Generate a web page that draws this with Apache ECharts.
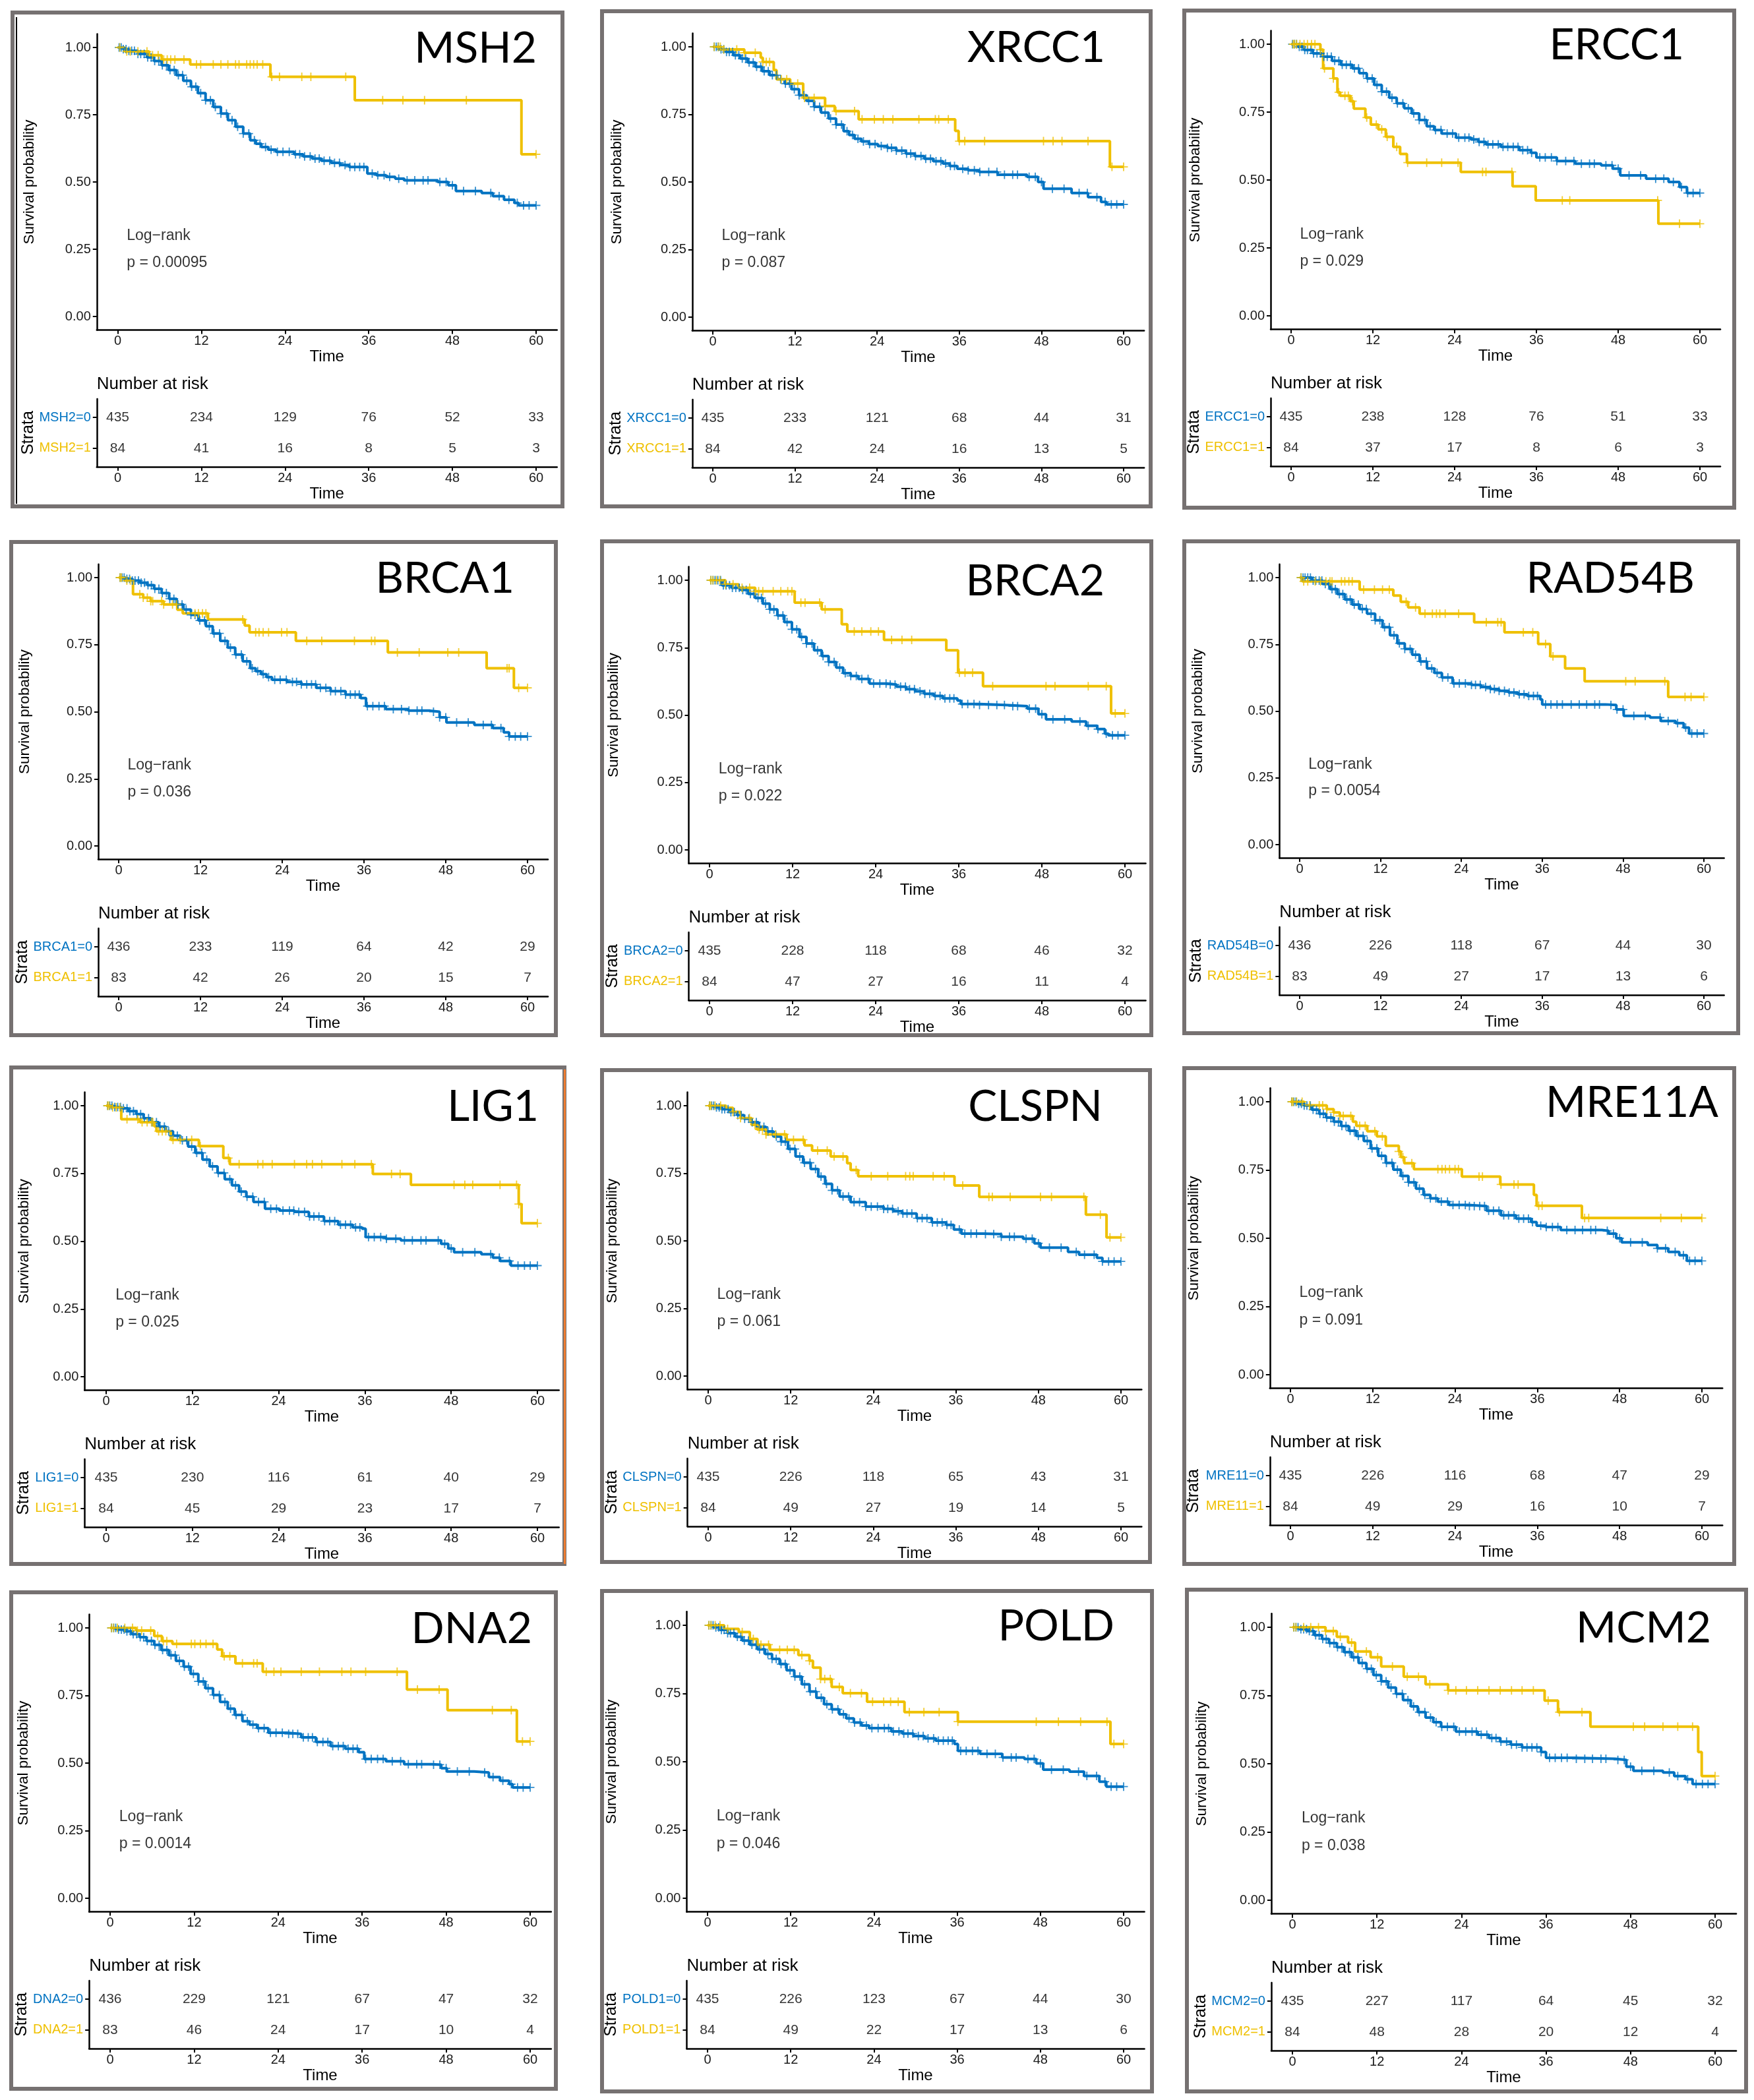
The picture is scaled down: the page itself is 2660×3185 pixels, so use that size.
<!DOCTYPE html>
<html><head><meta charset="utf-8">
<script src="https://cdn.jsdelivr.net/npm/echarts@6/dist/echarts.min.js"></script>
<style>html,body{margin:0;padding:0;background:#fff}#c{width:2660px;height:3185px}</style>
</head><body><div id="c"></div><script>
// ---------- shared tick values ----------
const timeTicks = [0, 12, 24, 36, 48, 60];
const survTicks = [0, 0.25, 0.5, 0.75, 1];
// censor times of the large (=0) group (same cohort in every panel)
const blueCensorTimes = [0.2,0.5,0.8,1.2,1.6,2.0,2.4,2.9,3.3,3.8,4.3,4.8,5.3,5.9,6.4,7.0,7.5,8.1,8.7,9.3,9.9,10.6,11.2,11.9,12.6,13.3,14.0,14.8,15.6,16.4,17.2,18.0,18.8,19.6,20.4,21.2,22.0,22.9,23.7,24.6,25.5,26.1,26.8,27.6,28.3,28.9,29.6,30.4,31.1,31.8,32.6,33.3,34.0,34.7,35.3,36.5,37.3,38.2,39.0,40.3,41.5,42.6,43.8,44.5,46.2,47.1,48.0,49.6,51.3,53.5,54.7,56.1,57.3,58.2,59.0,60];

// ---------- MSH2 ----------
const MSH2_blue = [[0,1],[0.8,0.994],[1.6,0.988],[2.9,0.976],[4.2,0.963],[5.2,0.950],[6.3,0.934],[7.3,0.916],[8.4,0.897],[9.4,0.876],[10.5,0.854],[11.5,0.830],[12.6,0.804],[13.7,0.779],[14.8,0.754],[15.8,0.730],[16.9,0.705],[18.0,0.680],[19.0,0.655],[19.8,0.642],[20.6,0.630],[21.6,0.620],[22.7,0.612],[25.3,0.603],[26.6,0.595],[27.9,0.587],[29.2,0.579],[30.6,0.571],[31.9,0.563],[33.2,0.556],[35.8,0.531],[37.1,0.525],[38.5,0.519],[39.8,0.512],[41.1,0.506],[45.9,0.500],[47.4,0.488],[48.5,0.466],[52.2,0.459],[53.8,0.447],[55.4,0.434],[56.9,0.422],[57.5,0.413],[60,0.413]];
const MSH2_yellow = [[0,1],[1.0,0.985],[4.5,0.971],[6.3,0.955],[10.4,0.937],[21.9,0.891],[34.0,0.804],[57.9,0.603],[60,0.603]];
const MSH2_yellowCensor = [0.3,1.3,1.8,2.9,4.2,5.0,5.8,6.6,7.1,7.6,8.2,9.5,11.3,11.9,13.7,14.8,15.8,16.9,17.4,18.5,19.0,19.5,20.0,20.8,22.1,23.2,26.4,27.7,32.7,38.0,40.9,44.0,50.0,60];
const MSH2_risk0 = [435,234,129,76,52,33];
const MSH2_risk1 = [84,41,16,8,5,3];

// ---------- XRCC1 ----------
const XRCC1_blue = [[0,1],[0.9,0.991],[1.9,0.981],[3.0,0.969],[4.0,0.957],[5.1,0.942],[6.2,0.926],[7.2,0.910],[8.3,0.895],[9.4,0.880],[10.5,0.864],[11.5,0.843],[12.6,0.821],[13.7,0.800],[14.8,0.778],[15.8,0.757],[16.9,0.735],[18.0,0.712],[19.1,0.688],[19.9,0.674],[20.7,0.660],[21.7,0.650],[22.8,0.640],[24.1,0.633],[25.5,0.626],[26.8,0.616],[28.2,0.605],[29.5,0.596],[30.9,0.586],[32.2,0.577],[33.6,0.568],[34.6,0.559],[35.7,0.549],[37.3,0.543],[38.9,0.537],[41.6,0.527],[45.9,0.519],[47.5,0.500],[48.3,0.475],[52.4,0.459],[54.8,0.444],[56.7,0.426],[57.5,0.417],[60,0.417]];
const XRCC1_yellow = [[0,1],[1.2,0.990],[4.6,0.978],[7.0,0.960],[7.3,0.944],[8.9,0.914],[9.3,0.880],[11.3,0.864],[13.2,0.811],[16.4,0.781],[17.8,0.762],[21.3,0.732],[35.4,0.689],[35.9,0.651],[58.0,0.556],[60,0.556]];
const XRCC1_yellowCensor = [0.2,0.8,1.1,1.6,3.5,4.6,6.2,7.3,7.8,8.3,10.0,10.8,12.4,13.4,14.8,16.4,18.0,20.7,21.8,23.6,24.9,26.3,30.1,32.5,33.0,34.4,36.0,36.8,39.7,48.3,49.7,51.0,54.8,58.3,60];
const XRCC1_risk0 = [435,233,121,68,44,31];
const XRCC1_risk1 = [84,42,24,16,13,5];

// ---------- ERCC1 ----------
const ERCC1_blue = [[0,1],[1.0,0.990],[1.9,0.979],[3.2,0.966],[4.6,0.954],[6.0,0.939],[7.3,0.924],[9.0,0.911],[10.0,0.893],[11.1,0.874],[12.2,0.850],[13.3,0.825],[14.4,0.803],[15.5,0.782],[16.6,0.764],[17.7,0.745],[18.8,0.721],[19.9,0.698],[21.0,0.684],[22.1,0.671],[24.2,0.656],[26.4,0.649],[27.5,0.640],[28.6,0.631],[30.8,0.622],[33.5,0.610],[35.2,0.600],[36.0,0.583],[39.0,0.570],[41.7,0.560],[45.5,0.554],[47.2,0.542],[48.3,0.517],[52.1,0.505],[55.4,0.493],[57.0,0.474],[58.1,0.452],[60,0.452]];
const ERCC1_yellow = [[0,1],[4.3,0.980],[4.7,0.911],[6.2,0.874],[6.8,0.823],[7.2,0.810],[8.7,0.790],[9.2,0.763],[10.9,0.730],[11.7,0.704],[12.8,0.686],[13.9,0.659],[15.0,0.622],[16.0,0.596],[17.0,0.564],[24.9,0.530],[32.5,0.477],[35.9,0.425],[53.9,0.339],[60,0.339]];
const ERCC1_yellowCensor = [0.3,0.5,0.8,1.3,1.9,2.4,3.0,3.5,4.3,4.9,6.2,7.0,7.9,8.4,9.0,11.1,12.5,13.3,14.1,15.5,17.1,19.9,22.1,24.5,28.1,28.6,32.4,39.8,40.9,53.8,57.0,60];
const ERCC1_risk0 = [435,238,128,76,51,33];
const ERCC1_risk1 = [84,37,17,8,6,3];

// ---------- BRCA1 ----------
const BRCA1_blue = [[0,1],[1.0,0.995],[2.0,0.989],[3.1,0.981],[4.2,0.972],[5.2,0.958],[6.3,0.942],[7.4,0.921],[8.5,0.900],[9.5,0.881],[10.6,0.861],[11.7,0.840],[12.8,0.819],[13.8,0.792],[14.9,0.764],[16.0,0.739],[17.1,0.713],[18.2,0.688],[19.3,0.662],[20.1,0.651],[20.9,0.640],[21.7,0.629],[22.5,0.619],[24.7,0.611],[26.8,0.602],[29.0,0.589],[31.1,0.577],[33.3,0.564],[35.5,0.551],[36.3,0.521],[39.2,0.510],[42.5,0.504],[45.7,0.500],[47.1,0.479],[48.1,0.460],[52.2,0.451],[54.9,0.439],[56.5,0.423],[57.3,0.408],[60,0.408]];
const BRCA1_yellow = [[0,1],[0.9,0.989],[2.1,0.938],[3.6,0.925],[4.7,0.912],[6.6,0.900],[8.6,0.880],[9.4,0.867],[13.1,0.844],[18.5,0.821],[19.2,0.796],[26.0,0.764],[39.5,0.721],[54.0,0.662],[58.0,0.589],[60,0.589]];
const BRCA1_yellowCensor = [0.2,0.4,1.2,1.7,3.1,3.6,4.2,4.7,5.0,6.3,6.6,7.9,8.5,11.2,11.7,12.3,12.8,18.2,20.1,20.6,21.2,22.0,23.9,24.7,27.6,29.8,34.6,37.1,37.6,40.9,44.1,48.3,49.9,57.0,57.3,58.7,60];
const BRCA1_risk0 = [436,233,119,64,42,29];
const BRCA1_risk1 = [83,42,26,20,15,7];

// ---------- BRCA2 ----------
const BRCA2_blue = [[0,1],[1.8,0.981],[3.2,0.972],[4.5,0.964],[5.6,0.949],[6.6,0.934],[7.7,0.913],[8.7,0.892],[9.8,0.869],[10.8,0.845],[11.9,0.818],[13.0,0.790],[14.0,0.765],[15.1,0.740],[16.2,0.719],[17.2,0.697],[18.3,0.676],[19.3,0.655],[20.4,0.645],[21.5,0.634],[23.1,0.617],[25.7,0.613],[27.0,0.605],[28.4,0.596],[29.7,0.588],[31.0,0.579],[32.4,0.571],[33.7,0.562],[35.8,0.554],[36.3,0.541],[39.0,0.537],[42.7,0.533],[45.9,0.524],[47.5,0.503],[48.6,0.484],[52.3,0.476],[54.4,0.460],[56.0,0.448],[57.1,0.431],[57.6,0.425],[60,0.425]];
const BRCA2_yellow = [[0,1],[2.3,0.985],[4.2,0.972],[6.6,0.959],[12.3,0.917],[16.2,0.892],[19.1,0.837],[19.9,0.810],[25.2,0.779],[34.2,0.740],[35.9,0.657],[39.5,0.607],[58.0,0.506],[60,0.506]];
const BRCA2_yellowCensor = [0.2,0.5,1.0,1.5,2.3,3.4,4.7,5.8,6.6,7.1,7.7,9.2,10.3,11.3,11.9,13.2,13.8,15.9,16.7,20.9,22.0,23.3,24.4,26.3,27.8,29.2,36.1,36.9,38.0,40.9,48.6,49.9,54.7,57.3,58.6,60];
const BRCA2_risk0 = [435,228,118,68,46,32];
const BRCA2_risk1 = [84,47,27,16,11,4];

// ---------- RAD54B ----------
const RAD54B_blue = [[0,1],[1.8,0.989],[3.4,0.976],[4.5,0.957],[5.6,0.938],[6.7,0.918],[7.8,0.899],[8.9,0.882],[10.0,0.865],[11.2,0.840],[12.3,0.814],[13.4,0.784],[14.5,0.754],[15.6,0.733],[16.7,0.711],[17.8,0.686],[18.9,0.660],[20.0,0.643],[21.1,0.626],[22.7,0.604],[25.5,0.598],[26.9,0.590],[28.3,0.583],[29.6,0.576],[31.0,0.570],[32.4,0.563],[33.8,0.557],[35.7,0.544],[36.0,0.525],[45.4,0.523],[47.0,0.506],[48.1,0.482],[52.0,0.476],[53.6,0.463],[55.8,0.455],[57.0,0.438],[57.8,0.416],[60,0.416]];
const RAD54B_yellow = [[0,1],[0.4,0.986],[8.9,0.955],[13.9,0.933],[15.0,0.909],[16.1,0.888],[17.8,0.865],[25.9,0.833],[30.4,0.795],[35.4,0.751],[37.2,0.705],[39.4,0.660],[42.3,0.612],[54.7,0.553],[60,0.553]];
const RAD54B_yellowCensor = [0.2,0.6,1.2,2.3,3.1,3.9,4.5,4.8,6.2,6.7,7.3,7.8,9.5,11.1,12.3,13.3,15.8,17.2,18.6,19.7,20.3,20.8,21.6,23.6,27.7,29.4,29.9,33.2,34.6,36.5,37.6,48.4,49.8,54.2,57.2,58.1,60];
const RAD54B_risk0 = [436,226,118,67,44,30];
const RAD54B_risk1 = [83,49,27,17,13,6];

// ---------- LIG1 ----------
const LIG1_blue = [[0,1],[1.0,0.995],[2.1,0.990],[3.1,0.980],[4.2,0.969],[5.2,0.954],[6.2,0.939],[7.3,0.923],[8.3,0.906],[9.3,0.889],[10.3,0.872],[11.4,0.849],[12.4,0.826],[13.4,0.801],[14.4,0.776],[15.5,0.752],[16.5,0.729],[17.5,0.706],[18.5,0.683],[19.5,0.664],[20.5,0.645],[22.1,0.620],[24.1,0.613],[26.2,0.608],[28.2,0.591],[30.3,0.574],[32.3,0.561],[34.3,0.551],[35.6,0.546],[36.1,0.515],[38.9,0.509],[41.0,0.503],[46.6,0.490],[47.6,0.473],[48.4,0.459],[52.2,0.452],[53.8,0.439],[54.8,0.427],[56.3,0.410],[60,0.410]];
const LIG1_yellow = [[0,1],[0.6,0.994],[2.1,0.950],[4.7,0.939],[6.7,0.924],[7.0,0.906],[9.0,0.874],[12.9,0.851],[16.3,0.807],[17.2,0.784],[37.1,0.748],[42.4,0.708],[57.4,0.637],[57.8,0.566],[60,0.566]];
const LIG1_yellowCensor = [0.2,0.4,0.9,1.4,1.9,2.9,4.4,5.0,5.7,6.3,6.5,7.3,7.8,8.3,9.3,10.3,11.9,13.1,17.0,18.5,21.1,21.8,23.1,26.2,27.9,28.7,30.0,32.8,34.6,36.9,39.7,40.9,48.4,49.9,51.0,54.8,57.1,57.4,60];
const LIG1_risk0 = [435,230,116,61,40,29];
const LIG1_risk1 = [84,45,29,23,17,7];

// ---------- CLSPN ----------
const CLSPN_blue = [[0,1],[1.0,0.994],[2.0,0.987],[3.1,0.976],[4.2,0.965],[5.2,0.952],[6.3,0.939],[7.3,0.922],[8.4,0.905],[9.5,0.886],[10.6,0.867],[11.6,0.840],[12.7,0.812],[13.8,0.789],[14.9,0.766],[16.0,0.738],[17.0,0.711],[18.0,0.687],[19.1,0.664],[20.7,0.643],[22.9,0.627],[25.5,0.618],[26.9,0.610],[28.2,0.601],[30.3,0.584],[32.5,0.568],[34.6,0.559],[35.7,0.542],[36.8,0.527],[40.0,0.525],[42.6,0.515],[45.8,0.508],[47.4,0.491],[48.3,0.475],[52.3,0.459],[53.9,0.449],[56.5,0.437],[57.3,0.424],[60,0.424]];
const CLSPN_yellow = [[0,1],[2.6,0.992],[3.6,0.977],[4.7,0.954],[6.3,0.929],[7.1,0.912],[8.4,0.894],[11.4,0.874],[14.0,0.853],[15.1,0.834],[17.8,0.812],[20.2,0.787],[20.7,0.762],[21.8,0.739],[35.8,0.705],[39.4,0.663],[54.9,0.597],[57.9,0.513],[60,0.513]];
const CLSPN_yellowCensor = [0.2,0.4,1.0,1.8,3.6,4.7,6.0,6.8,7.4,7.9,8.4,9.8,11.1,12.4,13.8,15.9,17.3,18.3,19.6,21.5,23.7,26.1,28.7,29.3,29.8,32.7,34.3,37.0,40.8,41.3,43.9,48.3,49.9,54.6,57.0,58.4,60];
const CLSPN_risk0 = [435,226,118,65,43,31];
const CLSPN_risk1 = [84,49,27,19,14,5];

// ---------- MRE11A ----------
const MRE11A_blue = [[0,1],[1.0,0.993],[2.0,0.986],[3.1,0.971],[4.2,0.956],[5.2,0.942],[6.3,0.927],[7.4,0.911],[8.5,0.894],[9.6,0.875],[10.7,0.856],[11.7,0.829],[12.8,0.802],[13.9,0.776],[15.0,0.751],[16.1,0.728],[17.2,0.705],[18.3,0.682],[19.4,0.659],[20.4,0.646],[21.5,0.634],[23.1,0.622],[25.9,0.618],[28.6,0.601],[30.7,0.584],[32.9,0.572],[35.1,0.559],[35.9,0.546],[37.2,0.541],[39.4,0.530],[45.4,0.527],[46.4,0.517],[47.5,0.500],[48.3,0.485],[52.1,0.475],[53.5,0.463],[55.1,0.450],[56.7,0.438],[57.8,0.417],[60,0.417]];
const MRE11A_yellow = [[0,1],[2.0,0.987],[5.3,0.973],[6.3,0.961],[7.2,0.948],[9.1,0.927],[9.6,0.912],[11.2,0.892],[12.6,0.873],[13.9,0.839],[15.8,0.818],[16.1,0.797],[16.6,0.775],[18.0,0.753],[25.0,0.726],[30.6,0.697],[35.5,0.659],[35.9,0.619],[42.5,0.574],[60,0.574]];
const MRE11A_yellowCensor = [0.2,0.4,0.9,1.7,2.8,4.2,4.7,5.3,6.3,7.2,7.7,8.8,10.1,10.9,12.3,13.4,15.8,16.4,17.7,21.5,22.1,22.6,23.2,24.0,24.5,27.5,28.0,30.7,32.6,33.2,36.2,36.7,42.9,43.5,54.0,57.0,60];
const MRE11A_risk0 = [435,226,116,68,47,29];
const MRE11A_risk1 = [84,49,29,16,10,7];

// ---------- DNA2 ----------
const DNA2_blue = [[0,1],[1.0,0.994],[2.1,0.987],[3.1,0.977],[4.2,0.966],[5.2,0.952],[6.3,0.937],[7.3,0.918],[8.4,0.899],[9.4,0.878],[10.5,0.857],[11.5,0.830],[12.6,0.802],[13.6,0.777],[14.7,0.752],[15.7,0.726],[16.8,0.701],[17.8,0.678],[18.9,0.655],[19.9,0.642],[21.0,0.629],[22.6,0.612],[25.2,0.608],[27.3,0.595],[29.4,0.578],[31.5,0.563],[33.6,0.553],[35.5,0.540],[36.3,0.515],[39.4,0.507],[42.0,0.496],[45.9,0.494],[47.3,0.481],[48.1,0.469],[52.0,0.465],[54.1,0.448],[55.7,0.435],[57.0,0.422],[57.5,0.410],[60,0.410]];
const DNA2_yellow = [[0,1],[3.7,0.990],[6.3,0.970],[7.4,0.951],[8.9,0.941],[15.3,0.920],[16.0,0.895],[17.9,0.869],[21.8,0.838],[42.4,0.772],[48.2,0.696],[58.1,0.580],[60,0.580]];
const DNA2_yellowCensor = [0.2,0.5,1.05,2.1,3.2,3.9,4.5,5.8,6.8,7.6,8.1,9.5,11.6,12.1,12.9,13.7,14.7,16.3,17.1,18.9,20.5,21.0,22.3,23.4,24.4,27.3,29.9,33.1,34.4,36.5,41.0,43.9,47.0,54.6,57.3,58.9,60];
const DNA2_risk0 = [436,229,121,67,47,32];
const DNA2_risk1 = [83,46,24,17,10,4];

// ---------- POLD ----------
const POLD_blue = [[0,1],[0.9,0.992],[1.8,0.983],[2.9,0.971],[4.0,0.958],[5.0,0.944],[6.1,0.929],[7.2,0.912],[8.3,0.895],[9.3,0.877],[10.4,0.858],[11.4,0.835],[12.5,0.812],[13.6,0.784],[14.7,0.757],[15.7,0.734],[16.8,0.711],[17.9,0.692],[19.0,0.674],[20.0,0.659],[21.1,0.644],[22.2,0.633],[23.3,0.623],[26.5,0.611],[28.1,0.603],[29.7,0.594],[31.3,0.586],[32.9,0.577],[35.6,0.565],[36.1,0.540],[39.3,0.529],[42.5,0.516],[45.7,0.510],[47.4,0.494],[48.4,0.471],[52.2,0.464],[54.3,0.448],[56.5,0.427],[57.5,0.409],[60,0.409]];
const POLD_yellow = [[0,1],[2.4,0.987],[4.5,0.975],[6.1,0.950],[7.2,0.929],[9.0,0.910],[13.1,0.891],[14.7,0.870],[15.2,0.845],[16.3,0.803],[17.9,0.774],[19.5,0.751],[23.0,0.720],[28.4,0.682],[36.1,0.647],[58.1,0.565],[60,0.565]];
const POLD_yellowCensor = [0.2,0.5,1.1,1.8,2.9,5.0,6.6,7.7,8.8,10.4,11.5,12.5,13.6,14.7,16.3,16.9,17.7,19.0,20.6,22.2,23.8,25.4,26.4,27.5,29.1,31.2,33.4,36.1,47.4,50.6,53.8,57.6,58.6,60];
const POLD_risk0 = [435,226,123,67,44,30];
const POLD_risk1 = [84,49,22,17,13,6];

// ---------- MCM2 ----------
const MCM2_blue = [[0,1],[1.0,0.993],[2.1,0.986],[3.1,0.971],[4.2,0.957],[5.2,0.942],[6.3,0.927],[7.3,0.909],[8.4,0.890],[9.4,0.869],[10.5,0.848],[11.5,0.825],[12.6,0.802],[13.6,0.779],[14.7,0.756],[15.7,0.733],[16.8,0.710],[17.8,0.689],[18.9,0.669],[20.0,0.652],[21.1,0.635],[23.2,0.618],[26.3,0.606],[27.9,0.594],[29.5,0.581],[31.0,0.570],[32.6,0.560],[35.3,0.543],[36.0,0.522],[40.0,0.518],[45.8,0.514],[47.4,0.489],[48.4,0.474],[52.6,0.468],[54.2,0.455],[55.8,0.443],[56.8,0.426],[60,0.426]];
const MCM2_yellow = [[0,1],[4.7,0.986],[6.3,0.965],[7.9,0.944],[8.9,0.911],[11.1,0.890],[12.6,0.856],[15.8,0.819],[18.9,0.791],[22.1,0.769],[35.8,0.731],[37.7,0.689],[42.3,0.636],[57.6,0.543],[58.1,0.455],[60,0.455]];
const MCM2_yellowCensor = [0.2,0.5,1.6,2.6,3.7,4.7,5.8,6.8,8.4,10.5,12.1,14.2,16.3,17.9,19.5,22.1,23.2,24.7,26.3,27.9,29.5,31.1,32.6,34.2,36.3,37.9,41.1,48.4,50.0,52.6,54.7,56.8,60];
const MCM2_risk0 = [435,227,117,64,45,32];
const MCM2_risk1 = [84,48,28,20,12,4];

// ---------- panel content ----------
const panels = [
  {title:'MSH2',   strata:'MSH2',   p:'0.00095', blue:MSH2_blue,   yellow:MSH2_yellow,   yCens:MSH2_yellowCensor,   r0:MSH2_risk0,   r1:MSH2_risk1},
  {title:'XRCC1',  strata:'XRCC1',  p:'0.087',   blue:XRCC1_blue,  yellow:XRCC1_yellow,  yCens:XRCC1_yellowCensor,  r0:XRCC1_risk0,  r1:XRCC1_risk1},
  {title:'ERCC1',  strata:'ERCC1',  p:'0.029',   blue:ERCC1_blue,  yellow:ERCC1_yellow,  yCens:ERCC1_yellowCensor,  r0:ERCC1_risk0,  r1:ERCC1_risk1},
  {title:'BRCA1',  strata:'BRCA1',  p:'0.036',   blue:BRCA1_blue,  yellow:BRCA1_yellow,  yCens:BRCA1_yellowCensor,  r0:BRCA1_risk0,  r1:BRCA1_risk1},
  {title:'BRCA2',  strata:'BRCA2',  p:'0.022',   blue:BRCA2_blue,  yellow:BRCA2_yellow,  yCens:BRCA2_yellowCensor,  r0:BRCA2_risk0,  r1:BRCA2_risk1},
  {title:'RAD54B', strata:'RAD54B', p:'0.0054',  blue:RAD54B_blue, yellow:RAD54B_yellow, yCens:RAD54B_yellowCensor, r0:RAD54B_risk0, r1:RAD54B_risk1},
  {title:'LIG1',   strata:'LIG1',   p:'0.025',   blue:LIG1_blue,   yellow:LIG1_yellow,   yCens:LIG1_yellowCensor,   r0:LIG1_risk0,   r1:LIG1_risk1},
  {title:'CLSPN',  strata:'CLSPN',  p:'0.061',   blue:CLSPN_blue,  yellow:CLSPN_yellow,  yCens:CLSPN_yellowCensor,  r0:CLSPN_risk0,  r1:CLSPN_risk1},
  {title:'MRE11A', strata:'MRE11',  p:'0.091',   blue:MRE11A_blue, yellow:MRE11A_yellow, yCens:MRE11A_yellowCensor, r0:MRE11A_risk0, r1:MRE11A_risk1},
  {title:'DNA2',   strata:'DNA2',   p:'0.0014',  blue:DNA2_blue,   yellow:DNA2_yellow,   yCens:DNA2_yellowCensor,   r0:DNA2_risk0,   r1:DNA2_risk1},
  {title:'POLD',   strata:'POLD1',  p:'0.046',   blue:POLD_blue,   yellow:POLD_yellow,   yCens:POLD_yellowCensor,   r0:POLD_risk0,   r1:POLD_risk1},
  {title:'MCM2',   strata:'MCM2',   p:'0.038',   blue:MCM2_blue,   yellow:MCM2_yellow,   yCens:MCM2_yellowCensor,   r0:MCM2_risk0,   r1:MCM2_risk1}
];

// ---------- layout (pixel positions of t=0, t=60, S=1, S=0, y-title centre, title right edge, frame) ----------
const layout = [
  {x0:178.5, x60:813,  y1:72,   y0:480,  ylab:45,   tr:814,  box:[19,19,853,768]},
  {x0:1081,  x60:1704, y1:71,   y0:481,  ylab:936,  tr:1676, box:[913,17,1745,768]},
  {x0:1958,  x60:2578, y1:67,   y0:479,  ylab:1813, tr:2554, box:[1796,16,2630,770]},
  {x0:180,   x60:800,  y1:876,  y0:1283, ylab:38,   tr:780,  box:[17,822,843,1570]},
  {x0:1076,  x60:1706, y1:880,  y0:1289, ylab:931,  tr:1675, box:[913,821,1746,1570]},
  {x0:1971,  x60:2584, y1:876,  y0:1281, ylab:1817, tr:2570, box:[1796,821,2636,1567]},
  {x0:161,   x60:815,  y1:1677, y0:2088, ylab:37,   tr:817,  box:[17,1619,856,2372]},
  {x0:1074,  x60:1700, y1:1677, y0:2087, ylab:929,  tr:1672, box:[913,1623,1744,2369]},
  {x0:1957,  x60:2581, y1:1671, y0:2085, ylab:1811, tr:2606, box:[1796,1620,2630,2372]},
  {x0:167,   x60:804,  y1:2469, y0:2879, ylab:36,   tr:807,  box:[17,2415,843,3168]},
  {x0:1073,  x60:1704, y1:2465, y0:2879, ylab:928,  tr:1690, box:[913,2413,1747,3172]},
  {x0:1960,  x60:2601, y1:2468, y0:2882, ylab:1823, tr:2595, box:[1800,2411,2648,3172]}
];

const FONT = '"Liberation Sans", Arial, Helvetica, sans-serif';
const BLUE = '#0073C2', YELLOW = '#EFC000';
const PLUS = 'path://M-0.14,-1L0.14,-1L0.14,-0.14L1,-0.14L1,0.14L0.14,0.14L0.14,1L-0.14,1L-0.14,0.14L-1,0.14L-1,-0.14L-0.14,-0.14Z';

function stepAt(curve, t) {
  let s = curve[0][1];
  for (const p of curve) { if (p[0] <= t) s = p[1]; else break; }
  return s;
}

const grid = [], xAxis = [], yAxis = [], series = [], graphic = [];

function timeAxis(gi) {
  return {
    gridIndex: gi, type: 'value', min: -3, max: 63,
    axisLine: {show: true, onZero: false, lineStyle: {color: '#000', width: 2.5}},
    axisTick: {show: true, customValues: timeTicks, length: 6, lineStyle: {color: '#000', width: 2}},
    axisLabel: {show: true, customValues: timeTicks, margin: 7, fontSize: 20, color: '#1a1a1a', fontFamily: FONT},
    splitLine: {show: false},
    name: 'Time', nameLocation: 'middle', nameGap: 29,
    nameTextStyle: {fontSize: 24, color: '#000', fontFamily: FONT}
  };
}

panels.forEach((P, i) => {
  const L = layout[i];
  const ppm = (L.x60 - L.x0) / 60;
  const ppu = L.y0 - L.y1;
  const gl = L.x0 - 3 * ppm, gw = 66 * ppm;
  const gt = L.y1 - 0.05 * ppu, gh = 1.1 * ppu;
  const gk = 2 * i, gr = 2 * i + 1;

  grid.push({left: gl, top: gt, width: gw, height: gh, outerBoundsMode: 'none', containLabel: false});
  grid.push({left: gl, top: L.y0 + 125, width: gw, height: 103, outerBoundsMode: 'none', containLabel: false});

  xAxis.push(timeAxis(gk));
  xAxis.push(timeAxis(gr));

  yAxis.push({
    gridIndex: gk, type: 'value', min: -0.05, max: 1.05,
    axisLine: {show: true, onZero: false, lineStyle: {color: '#000', width: 2.5}},
    axisTick: {show: true, customValues: survTicks, length: 6, lineStyle: {color: '#000', width: 2}},
    axisLabel: {show: true, customValues: survTicks, margin: 9, fontSize: 20, color: '#1a1a1a', fontFamily: FONT,
      formatter: v => Number(v).toFixed(2)},
    splitLine: {show: false},
    name: 'Survival probability', nameLocation: 'middle', nameGap: gl - L.ylab - 11,
    nameTextStyle: {fontSize: 22.5, color: '#000', fontFamily: FONT}
  });
  yAxis.push({
    gridIndex: gr, type: 'value', min: 0.4, max: 2.6,
    axisLine: {show: true, onZero: false, lineStyle: {color: '#000', width: 2.5}},
    axisTick: {show: true, customValues: [1, 2], length: 6, lineStyle: {color: '#000', width: 2}},
    axisLabel: {show: true, customValues: [1, 2], margin: 9, fontFamily: FONT,
      formatter: v => (Number(v) === 2 ? '{b|' + P.strata + '=0}' : '{y|' + P.strata + '=1}'),
      rich: {b: {color: BLUE, fontSize: 20, fontFamily: FONT}, y: {color: YELLOW, fontSize: 20, fontFamily: FONT}}},
    splitLine: {show: false},
    name: 'Strata', nameLocation: 'middle', nameGap: gl - L.ylab - 12,
    nameTextStyle: {fontSize: 25, color: '#000', fontFamily: FONT}
  });

  const common = {xAxisIndex: gk, yAxisIndex: gk, silent: true, animation: false};
  series.push(Object.assign({type: 'line', data: P.blue, step: 'end', showSymbol: false, symbol: 'none',
    lineStyle: {color: BLUE, width: 4}, z: 2}, common));
  series.push(Object.assign({type: 'line', data: P.yellow, step: 'end', showSymbol: false, symbol: 'none',
    lineStyle: {color: YELLOW, width: 4}, z: 3}, common));
  series.push(Object.assign({type: 'scatter', data: blueCensorTimes.map(t => [t, stepAt(P.blue, t)]),
    symbol: PLUS, symbolSize: 13, itemStyle: {color: BLUE}, z: 4}, common));
  series.push(Object.assign({type: 'scatter', data: P.yCens.map(t => [t, stepAt(P.yellow, t)]),
    symbol: PLUS, symbolSize: 13, itemStyle: {color: YELLOW}, z: 5}, common));
  series.push(Object.assign({type: 'scatter', symbolSize: 0, z: 6,
    data: [{name: 'Log\u2212rank', value: [1.3, 0.30]}, {name: 'p = ' + P.p, value: [1.3, 0.20]}],
    label: {show: true, position: 'right', distance: 0, formatter: '{b}', fontSize: 23, color: '#000', fontFamily: FONT}
  }, common));

  const rcommon = {type: 'scatter', xAxisIndex: gr, yAxisIndex: gr, silent: true, animation: false, symbolSize: 0,
    label: {show: true, position: 'inside', formatter: p => String(p.value[2]), fontSize: 21, color: '#000', fontFamily: FONT}};
  series.push(Object.assign({data: P.r0.map((v, k) => [timeTicks[k], 2, v])}, rcommon));
  series.push(Object.assign({data: P.r1.map((v, k) => [timeTicks[k], 1, v])}, rcommon));

  // frame
  const b = L.box;
  graphic.push({type: 'rect', shape: {x: b[0], y: b[1], width: b[2] - b[0], height: b[3] - b[1]},
    style: {fill: 'none', stroke: '#767171', lineWidth: 6}, z: 1, silent: true});
  // title
  graphic.push({type: 'text', x: L.tr, y: L.y1 + 2, silent: true, z: 10,
    style: {text: P.title, fill: '#000', font: '66px Lato, "Noto Sans", sans-serif', textAlign: 'right', textVerticalAlign: 'middle'}});
  // risk table title
  graphic.push({type: 'text', x: gl, y: L.y0 + 103, silent: true, z: 10,
    style: {text: 'Number at risk', fill: '#000', font: '26px ' + FONT, textAlign: 'left', textVerticalAlign: 'middle'}});
});

// small edge details of the source picture
graphic.push({type: 'rect', shape: {x: 24, y: 26, width: 2, height: 738}, style: {fill: '#000'}, silent: true, z: 2});
graphic.push({type: 'rect', shape: {x: 855, y: 1622, width: 3, height: 750}, style: {fill: '#ED7D31'}, silent: true, z: 2});

const chart = echarts.init(document.getElementById('c'), null, {renderer: 'canvas', width: 2660, height: 3185});
chart.setOption({
  backgroundColor: '#ffffff',
  animation: false,
  grid, xAxis, yAxis, series, graphic
});
</script></body></html>
